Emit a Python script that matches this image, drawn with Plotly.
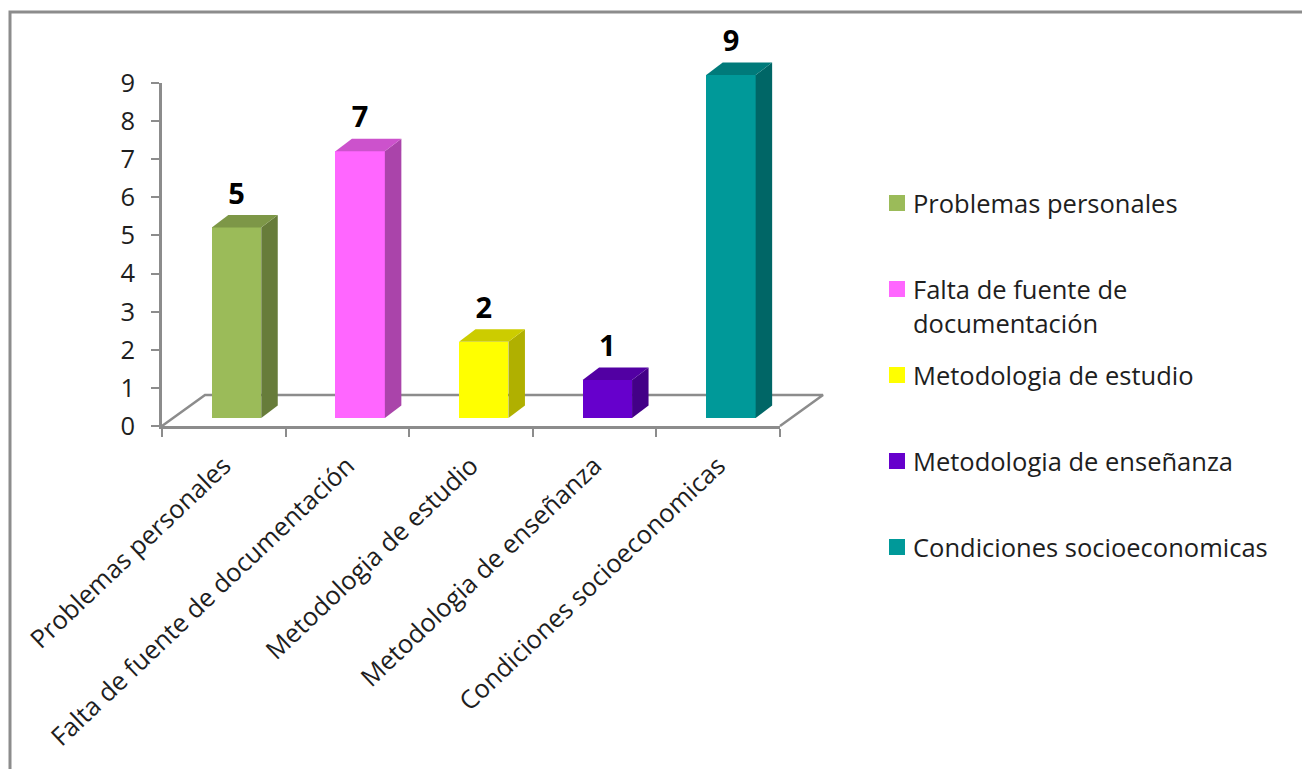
import plotly.graph_objects as go

categories = ["Problemas personales", "Falta de fuente de documentación", "Metodologia de estudio",
              "Metodologia de enseñanza", "Condiciones socioeconomicas"]
legend_labels = [["Problemas personales"], ["Falta de fuente de", "documentación"], ["Metodologia de estudio"],
                 ["Metodologia de enseñanza"], ["Condiciones socioeconomicas"]]
values = [5, 7, 2, 1, 9]
front_colors = ["#9BBB59", "#FF66FF", "#FFFF00", "#6600CC", "#009999"]
side_colors = ["#677C3A", "#AA44AA", "#B0B000", "#430087", "#006666"]
top_colors = ["#7D9747", "#CC52CC", "#CCCC00", "#5200A3", "#007A7A"]
y_ticks = list(range(10))

FONT = "Open Sans"
FS = 25.5
TXT = "#1e1e1e"
GRAY = "#8C8C8C"
L, R, T, B = 162, 780, 83, 426   # axis box in page pixels
W, H = 1302, 769
ux = (R - L) / 5
uy = (B - T) / 9
bar_off = 0.603
bar_w = 0.40
lift = 8 / uy            # bars stand on the floor, a little above the axis zero
dx, dy = 16.5 / ux, 12.5 / uy
fx, fy = 43 / ux, 31 / uy
label_rise = 31 / uy

# wider scene subplots holding the 3D marks, so nothing gets clipped at the axis box
SL, SR, ST, SB = 130, 860, 20, 440
scene_x = [(SL - L) / ux, (SR - L) / ux]
scene_y = [(418 - SB) / uy, (418 - ST) / uy]
scene_dom_x = [SL / W, SR / W]
scene_dom_y = [1 - SB / H, 1 - ST / H]

px = lambda x: x / W
py = lambda y: 1 - y / H

centers = [i + bar_off for i in range(len(values))]

fig = go.Figure()

# invisible trace so that the display axes are drawn
fig.add_trace(go.Scatter(x=[0], y=[0], xaxis="x", yaxis="y", mode="markers", marker=dict(opacity=0),
                         hoverinfo="skip", showlegend=False))

# floor, in a subplot underneath the bars
fig.add_trace(go.Scatter(x=[0, fx, 5 + fx, 5], y=[-lift, fy - lift, fy - lift, -lift], xaxis="x2", yaxis="y2",
                         mode="lines", line=dict(color=GRAY, width=2.5), hoverinfo="skip", showlegend=False))

fig.add_trace(go.Bar(x=centers, y=values, width=bar_w, xaxis="x3", yaxis="y3",
                     marker=dict(color=front_colors, line=dict(width=0)), showlegend=False))

for c, v, sc, tc in zip(centers, values, side_colors, top_colors):
    xr = c + bar_w / 2
    xl = c - bar_w / 2
    fig.add_trace(go.Scatter(x=[xr, xr + dx, xr + dx, xr, xr], y=[0, dy, v + dy, v, 0], xaxis="x3", yaxis="y3",
                             mode="lines", fill="toself", fillcolor=sc, line=dict(width=0),
                             hoverinfo="skip", showlegend=False))
    fig.add_trace(go.Scatter(x=[xl, xl + dx, xr + dx, xr, xl], y=[v, v + dy, v + dy, v, v], xaxis="x3", yaxis="y3",
                             mode="lines", fill="toself", fillcolor=tc, line=dict(width=0),
                             hoverinfo="skip", showlegend=False))

fig.add_trace(go.Scatter(x=centers, y=[v + label_rise for v in values], xaxis="x3", yaxis="y3", mode="text",
                         text=[str(v) for v in values], textposition="middle center",
                         textfont=dict(family=FONT, size=29, color="#000000", weight="bold"),
                         hoverinfo="skip", showlegend=False))

fig.update_layout(
    width=W, height=H, margin=dict(l=0, r=0, t=0, b=0, autoexpand=False),
    paper_bgcolor="white", plot_bgcolor="rgba(0,0,0,0)", showlegend=False,
    font=dict(family=FONT, size=FS, color=TXT),
    xaxis=dict(domain=[L / W, R / W], range=[0, 5], tickmode="array", tickvals=[i + 0.5 for i in range(5)],
               ticktext=categories, tickangle=-43.5, ticks="", showgrid=False, zeroline=False, showline=True,
               linecolor=GRAY, linewidth=2.5, ticklabelstandoff=12, automargin=False,
               tickfont=dict(family=FONT, size=FS, color=TXT),
               minor=dict(tickmode="array", tickvals=list(range(6)), ticks="outside", ticklen=8,
                          tickwidth=2, tickcolor=GRAY, showgrid=False)),
    yaxis=dict(domain=[1 - B / H, 1 - T / H], range=[0, 9], tickmode="array", tickvals=y_ticks, ticks="outside",
               ticklen=8, tickwidth=2, tickcolor=GRAY, showgrid=False, zeroline=False, showline=True,
               linecolor=GRAY, linewidth=2.5, ticklabelstandoff=11, automargin=False,
               tickfont=dict(family=FONT, size=FS, color=TXT)),
    xaxis2=dict(domain=scene_dom_x, range=scene_x, visible=False, anchor="y2"),
    yaxis2=dict(domain=scene_dom_y, range=scene_y, visible=False, anchor="x2"),
    xaxis3=dict(domain=scene_dom_x, range=scene_x, visible=False, anchor="y3"),
    yaxis3=dict(domain=scene_dom_y, range=scene_y, visible=False, anchor="x3"),
    bargap=0,
)

# outer chart frame, running off the picture to the right and bottom
fig.add_shape(type="rect", xref="paper", yref="paper", x0=px(10), x1=px(W + 20), y0=py(12), y1=py(H + 20),
              line=dict(color=GRAY, width=3), fillcolor="rgba(0,0,0,0)", layer="below")

legend_y = [203, 289, 375, 461, 547]
line_gap = 34
for lines, c, y0 in zip(legend_labels, front_colors, legend_y):
    fig.add_shape(type="rect", xref="paper", yref="paper", x0=px(889), x1=px(905), y0=py(y0 - 8), y1=py(y0 + 8),
                  fillcolor=c, line=dict(width=0))
    for k, line in enumerate(lines):
        fig.add_annotation(xref="paper", yref="paper", x=px(912), y=py(y0 + k * line_gap), xanchor="left",
                           yanchor="middle", text=line, showarrow=False, align="left", borderpad=0,
                           font=dict(family=FONT, size=FS, color=TXT))

fig.write_html("out.html", config=dict(displayModeBar=False),
               post_script="document.body.style.margin='0';document.documentElement.style.overflow='hidden';")
